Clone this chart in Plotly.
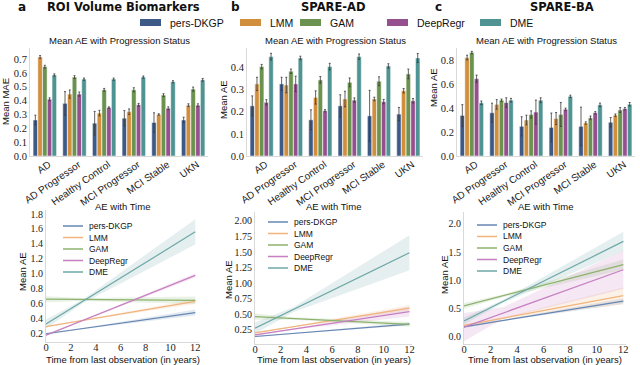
import plotly.graph_objects as go

# ---------------- data ----------------
models = ["pers-DKGP", "LMM", "GAM", "DeepRegr", "DME"]
groups = ["AD", "AD Progressor", "Healthy Control", "MCI Progressor", "MCI Stable", "UKN"]

# mean AE per progression status (rows follow models)
roi_mae = [
    [0.26, 0.38, 0.237, 0.273, 0.242, 0.26],
    [0.715, 0.447, 0.31, 0.32, 0.30, 0.367],
    [0.645, 0.57, 0.478, 0.478, 0.44, 0.483],
    [0.41, 0.447, 0.35, 0.37, 0.345, 0.367],
    [0.585, 0.555, 0.555, 0.57, 0.536, 0.55],
]
roi_err = [
    [0.035, 0.085, 0.085, 0.055, 0.07, 0.02],
    [0.01, 0.03, 0.02, 0.02, 0.005, 0.01],
    [0.01, 0.01, 0.01, 0.015, 0.01, 0.015],
    [0.01, 0.015, 0.005, 0.01, 0.01, 0.01],
    [0.008, 0.008, 0.008, 0.008, 0.008, 0.01],
]
ad_mae = [
    [0.226, 0.325, 0.163, 0.226, 0.181, 0.189],
    [0.325, 0.32, 0.264, 0.257, 0.257, 0.294],
    [0.403, 0.382, 0.343, 0.332, 0.337, 0.37],
    [0.242, 0.325, 0.204, 0.252, 0.245, 0.249],
    [0.448, 0.442, 0.403, 0.448, 0.406, 0.442],
]
ad_err = [
    [0.045, 0.03, 0.045, 0.05, 0.115, 0.03],
    [0.03, 0.035, 0.03, 0.035, 0.008, 0.01],
    [0.01, 0.01, 0.015, 0.02, 0.02, 0.022],
    [0.012, 0.035, 0.005, 0.01, 0.01, 0.01],
    [0.015, 0.008, 0.015, 0.012, 0.01, 0.02],
]
ba_mae = [
    [0.338, 0.36, 0.247, 0.238, 0.247, 0.281],
    [0.82, 0.43, 0.30, 0.312, 0.275, 0.34],
    [0.862, 0.465, 0.346, 0.346, 0.318, 0.383],
    [0.644, 0.445, 0.366, 0.389, 0.36, 0.394],
    [0.443, 0.465, 0.465, 0.497, 0.426, 0.431],
]
ba_err = [
    [0.09, 0.08, 0.08, 0.12, 0.16, 0.04],
    [0.02, 0.04, 0.04, 0.05, 0.01, 0.01],
    [0.01, 0.01, 0.03, 0.1, 0.015, 0.02],
    [0.03, 0.04, 0.1, 0.01, 0.01, 0.01],
    [0.015, 0.015, 0.02, 0.01, 0.015, 0.015],
]

# AE with time: regression line and CI half-width at these times
years = [0, 3, 12]
roi_line = [
    [0.19, 0.26, 0.475],
    [0.285, 0.37, 0.625],
    [0.655, 0.65, 0.64],
    [0.17, 0.37, 0.975],
    [0.32, 0.63, 1.56],
]
roi_ci = [
    [0.015, 0.006, 0.04],
    [0.012, 0.006, 0.035],
    [0.04, 0.02, 0.05],
    [0.012, 0.006, 0.03],
    [0.06, 0.025, 0.17],
]
ad_line = [
    [0.145, 0.195, 0.345],
    [0.205, 0.305, 0.60],
    [0.465, 0.435, 0.34],
    [0.17, 0.265, 0.545],
    [0.28, 0.58, 1.49],
]
ad_ci = [
    [0.012, 0.006, 0.025],
    [0.015, 0.008, 0.05],
    [0.05, 0.02, 0.04],
    [0.015, 0.01, 0.08],
    [0.09, 0.04, 0.28],
]
ba_line = [
    [0.18, 0.295, 0.635],
    [0.205, 0.335, 0.73],
    [0.55, 0.73, 1.28],
    [0.175, 0.43, 1.19],
    [0.285, 0.635, 1.69],
]
ba_ci = [
    [0.02, 0.01, 0.05],
    [0.03, 0.015, 0.15],
    [0.05, 0.025, 0.09],
    [0.25, 0.1, 0.34],
    [0.06, 0.03, 0.17],
]

# ---------------- styles ----------------
W, H = 640, 365
bar_colors = ["#3e5b88", "#d18f3e", "#6b924f", "#96508f", "#4f9392"]
line_colors = ["#6686b2", "#f0b47c", "#8cb26e", "#c67fc0", "#6ea7a7"]
band_rgb = ["102,134,178", "240,180,124", "140,178,110", "198,127,192", "110,167,167"]
SERIF = "Liberation Serif"
SANS = "Liberation Sans"


def px(x):
    return x / W


def py(y):
    return 1 - y / H


fig = go.Figure()

bar_sets = [(roi_mae, roi_err), (ad_mae, ad_err), (ba_mae, ba_err)]
for p, (vals, errs) in enumerate(bar_sets):
    for m, name in enumerate(models):
        fig.add_trace(go.Bar(
            x=groups, y=vals[m], name=name, showlegend=False,
            marker=dict(color=bar_colors[m], line=dict(color="white", width=0.5)),
            error_y=dict(type="data", array=errs[m], color="#3a3a3a", thickness=0.8, width=1),
            offsetgroup=str(m),
            xaxis=f"x{p + 1}", yaxis=f"y{p + 1}",
        ))

line_sets = [(roi_line, roi_ci), (ad_line, ad_ci), (ba_line, ba_ci)]
for p, (lines, cis) in enumerate(line_sets):
    ax = p + 4
    for m, name in enumerate(models):
        lo = [v - c for v, c in zip(lines[m], cis[m])]
        hi = [v + c for v, c in zip(lines[m], cis[m])]
        fig.add_trace(go.Scatter(
            x=years + years[::-1], y=lo + hi[::-1], mode="lines", fill="toself",
            fillcolor=f"rgba({band_rgb[m]},0.18)", line=dict(width=0),
            hoverinfo="skip", showlegend=False,
            xaxis=f"x{ax}", yaxis=f"y{ax}",
        ))
    for m, name in enumerate(models):
        fig.add_trace(go.Scatter(
            x=[years[0], years[-1]], y=[lines[m][0], lines[m][-1]], mode="lines",
            line=dict(color=line_colors[m], width=1.2), name=name, showlegend=False,
            xaxis=f"x{ax}", yaxis=f"y{ax}",
        ))

# ---------------- axes ----------------
axis_common = dict(showgrid=False, zeroline=False, showline=True, linecolor="#d9d9d9",
                   linewidth=1, ticks="", automargin=False,
                   tickfont=dict(family=SERIF, size=10.5, color="#222"))

bar_x = [(30, 208), (247, 423), (457, 635)]
bar_y = [(0, 0.78, 0.1, ".1f"), (0, 0.487, 0.1, ".1f"), (0, 0.9, 0.2, ".1f")]
for p in range(3):
    xa, ya = ("xaxis" if p == 0 else f"xaxis{p + 1}"), ("yaxis" if p == 0 else f"yaxis{p + 1}")
    fig.layout[xa] = dict(axis_common, domain=[px(bar_x[p][0]), px(bar_x[p][1])],
                          anchor=f"y{p + 1}", tickangle=-35, range=[-0.5, 5.5],
                          ticklabelshift=4, ticklabelstandoff=-2,
                          tickfont=dict(family=SANS, size=10, color="#222"))
    lo_, hi_, dt, fmt = bar_y[p]
    fig.layout[ya] = dict(axis_common, domain=[py(156), py(48)], anchor=f"x{p + 1}",
                          range=[lo_, hi_], dtick=dt, tick0=0, tickformat=fmt)

line_x = [(46, 199), (255, 412), (464, 626)]
line_y = [(0.079, 1.854, 0.2, 0.2, ".1f", 342, 210),
          (0.025, 2.144, 0.25, 0.25, ".2f", 344, 212),
          (-0.124, 2.21, 0.5, 0.0, ".1f", 344, 212)]
x_spans = [12.3, 12.2, 12.2]
for p in range(3):
    ax = p + 4
    y0, y1, dt, t0, fmt, pb, pt = line_y[p]
    fig.layout[f"xaxis{ax}"] = dict(axis_common, domain=[px(line_x[p][0]), px(line_x[p][1])],
                                    anchor=f"y{ax}", range=[0, x_spans[p]], dtick=2, tick0=0,
                                    ticklabelstandoff=-5)
    fig.layout[f"yaxis{ax}"] = dict(axis_common, domain=[py(pb), py(pt)], anchor=f"x{ax}",
                                    range=[y0, y1], dtick=dt, tick0=t0, tickformat=fmt,
                                    tickfont=dict(family=SERIF, size=10, color="#222"))

# ---------------- text ----------------
ann = []


def text(x, y, s, size=10, bold=False, angle=0, family=SANS, xanchor="center"):
    ann.append(dict(x=px(x), y=py(y), xref="paper", yref="paper", text=f"<b>{s}</b>" if bold else s,
                    showarrow=False, textangle=angle, xanchor=xanchor, yanchor="middle",
                    font=dict(family=family, size=size, color="#111")))


for lbl, x in zip(["a", "b", "c"], [22, 235, 438]):
    text(x, 7.5, lbl, size=12, bold=True, family="DejaVu Sans")
for ttl, x in zip(["ROI Volume Biomarkers", "SPARE-AD", "SPARE-BA"], [123, 333, 562]):
    text(x, 7.5, ttl, size=11.5, bold=True, family="DejaVu Sans")

for p in range(3):
    cx = (bar_x[p][0] + bar_x[p][1]) / 2
    text(cx, 41, "Mean AE with Progression Status", size=9.5)
    lx = (line_x[p][0] + line_x[p][1]) / 2
    text(lx, 206, "AE with Time", size=9.5)
    text(lx, 359, "Time from last observation (in years)", size=9.5)

for x, y, s in [(6, 102, "Mean MAE"), (223, 100, "Mean AE"), (433, 88, "Mean AE"),
                (22, 272, "Mean AE"), (228, 280, "Mean AE"), (444, 275, "Mean AE")]:
    text(x, y, s, size=9.5, angle=-90)

# top legend
shapes = []
for m, (name, x) in enumerate(zip(models, [140, 240, 300, 387, 480])):
    shapes.append(dict(type="rect", xref="paper", yref="paper", x0=px(x), x1=px(x + 21),
                       y0=py(26), y1=py(19), fillcolor=bar_colors[m], line=dict(width=0)))
    text(x + 28, 22.5, name, size=10.5, xanchor="left")

# legends inside the time panels
for (lx0, ly0) in [(63, 226), (268, 222), (477, 225)]:
    for m, name in enumerate(models):
        yy = ly0 + m * 11.5
        shapes.append(dict(type="line", xref="paper", yref="paper", x0=px(lx0), x1=px(lx0 + 20),
                           y0=py(yy), y1=py(yy), line=dict(color=line_colors[m], width=1.5)))
        text(lx0 + 24, yy, name, size=8.5, xanchor="left")

fig.update_layout(
    width=W, height=H, margin=dict(l=0, r=0, t=0, b=0),
    plot_bgcolor="white", paper_bgcolor="white",
    barmode="group", bargap=0.2, bargroupgap=0.05,
    annotations=ann, shapes=shapes, showlegend=False,
)

# the page body has a default 8px margin; drop it so the figure fills the window
fig.write_html("out.html", config={"displayModeBar": False},
               post_script="document.body.style.margin='0';")
